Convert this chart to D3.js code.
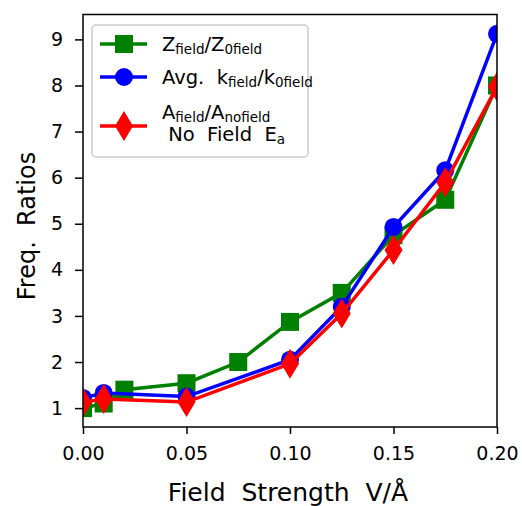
<!DOCTYPE html>
<html><head><meta charset="utf-8">
<script src="https://cdn.jsdelivr.net/npm/d3@7"></script>
<style>body{margin:0;background:#fff}svg{display:block}text{font-family:"DejaVu Sans",sans-serif;white-space:pre}</style>
</head><body>
<script>
const xGreen = [0, 0.01, 0.02, 0.05, 0.075, 0.1, 0.125, 0.15, 0.175, 0.2];
const greenVals = [1.0, 1.1, 1.4, 1.54, 2.0, 2.87, 3.5, 4.75, 5.52, 8.0];
const xBR = [0, 0.01, 0.05, 0.1, 0.125, 0.15, 0.175, 0.2];
const blueVals = [1.22, 1.33, 1.25, 2.05, 3.2, 4.93, 6.16, 9.12];
const redVals = [1.12, 1.2, 1.13, 1.96, 3.05, 4.43, 5.9, 7.97];
const xTicks = [0, 0.05, 0.1, 0.15, 0.2];
const yTicks = [1,2,3,4,5,6,7,8,9];

const W=522,H=506, L=83, R=497, T=14.5, B=427;
const svg=d3.select("body").append("svg").attr("width",W).attr("height",H);
const x=d3.scaleLinear().domain([0,0.2]).range([L,R]);
const y=d3.scaleLinear().domain([0.59,9.54]).range([B,T]);

svg.append("clipPath").attr("id","clip").append("rect").attr("x",L).attr("y",T).attr("width",R-L).attr("height",B-T);
const g=svg.append("g").attr("clip-path","url(#clip)");
const line=d3.line().x(d=>x(d[0])).y(d=>y(d[1]));
const series=[
 {xs:xGreen,vs:greenVals,color:"green",m:"s"},
 {xs:xBR,vs:blueVals,color:"blue",m:"o"},
 {xs:xBR,vs:redVals,color:"red",m:"d"}];
function marker(sel,m,color,cx,cy){
  if(m==="s") sel.append("rect").attr("x",cx-9).attr("y",cy-9).attr("width",18).attr("height",18).attr("fill",color);
  else if(m==="o") sel.append("circle").attr("cx",cx).attr("cy",cy).attr("r",9).attr("fill",color);
  else sel.append("path").attr("d",`M${cx},${cy-15}L${cx+9},${cy}L${cx},${cy+15}L${cx-9},${cy}Z`).attr("fill",color);
}
series.forEach(s=>{
  const pts=s.xs.map((v,i)=>[v,s.vs[i]]);
  const sg=g.append("g");
  sg.append("path").attr("d",line(pts)).attr("fill","none").attr("stroke",s.color).attr("stroke-width",3.5);
  pts.forEach(p=>marker(sg,s.m,s.color,x(p[0]),y(p[1])));
});

// axes
const xa=svg.append("g").attr("transform",`translate(0,${B})`).call(d3.axisBottom(x).tickValues(xTicks).tickFormat(d3.format(".2f")).tickSizeOuter(0).tickSize(7).tickPadding(13));
const ya=svg.append("g").attr("transform",`translate(${L},0)`).call(d3.axisLeft(y).tickValues(yTicks).tickFormat(d3.format("d")).tickSizeOuter(0).tickSize(8).tickPadding(12));
[xa,ya].forEach(a=>{a.select(".domain").remove();a.selectAll("line").attr("stroke","#000").attr("stroke-width",1.5);a.selectAll("text").attr("font-size",19).attr("fill","#000").attr("font-family","DejaVu Sans");});
svg.append("rect").attr("x",L).attr("y",T).attr("width",R-L).attr("height",B-T).attr("fill","none").attr("stroke","#000").attr("stroke-width",1.5);

svg.append("text").attr("x",(L+R)/2-2).attr("y",501).attr("text-anchor","middle").attr("font-size",25).text("Field  Strength  V/Å");
svg.append("text").attr("transform",`translate(35,226) rotate(-90)`).attr("text-anchor","middle").attr("font-size",24).text("Freq.  Ratios");

// legend
const lg=svg.append("g");
lg.append("rect").attr("x",92).attr("y",25).attr("width",216).attr("height",132).attr("rx",4).attr("fill","#fff").attr("fill-opacity",0.8).attr("stroke","#ccc").attr("stroke-width",1.5);
const entries=[{s:series[0],y:44},{s:series[1],y:77},{s:series[2],y:126}];
entries.forEach(e=>{
  lg.append("line").attr("x1",100).attr("x2",147).attr("y1",e.y).attr("y2",e.y).attr("stroke",e.s.color).attr("stroke-width",3.5);
  marker(lg,e.s.m,e.s.color,124,e.y);
});
function labelText(xp,yp,parts){
  const t=lg.append("text").attr("x",xp).attr("y",yp).attr("font-size",19.5);
  parts.forEach(p=>{ if(p[1]) t.append("tspan").attr("font-size",13.5).attr("dy",3).text(p[0]); else t.append("tspan").attr("dy",p[2]||0).text(p[0]); });
}
labelText(162,51,[["Z"],["field",1],["/Z",0,-3],["0field",1]]);
labelText(162,84,[["Avg.  k"],["field",1],["/k",0,-3],["0field",1]]);
labelText(162,119,[["A"],["field",1],["/A",0,-3],["nofield",1]]);
labelText(162,141,[[" No  Field  E"],["a",1]]);
</script>
</body></html>
